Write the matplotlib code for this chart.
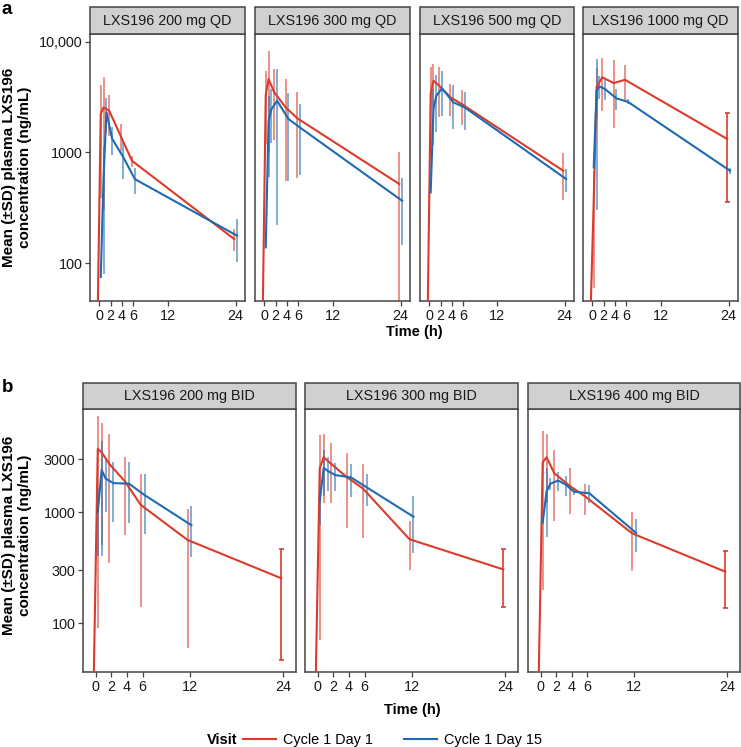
import numpy as np
import matplotlib
matplotlib.use('Agg')
from matplotlib import pyplot as plt
from matplotlib.lines import Line2D
from matplotlib.patches import Rectangle

plt.rcParams['font.family'] = ['Liberation Sans', 'DejaVu Sans']

# Sampling times (h)
qd_times = [0, 0.5, 1, 2, 4, 6, 24]
bid_times_d1 = [0, 0.5, 1, 2, 4, 6, 12, 24]
bid_times_d15 = [0, 0.5, 1, 2, 4, 6, 12]
bid400_times_d15 = [0, 0.5, 1, 2, 3, 4, 6, 12]

# a) QD cohorts, mean and SD (ng/mL); 0 = below the plotted range
qd200_d1 = [0, 2220, 2550, 2370, 1410, 840, 165]
qd200_d1_sd = [0, 1830, 2250, 950, 380, 95, 37]
qd200_d15 = [75, 600, 2300, 1330, 900, 574, 177]
qd200_d15_sd = [0, 520, 800, 380, 330, 150, 75]

qd300_d1 = [0, 3300, 4590, 3480, 2550, 2040, 518]
qd300_d1_sd = [0, 2100, 3600, 2200, 2000, 1450, 480]
qd300_d15 = [139, 1900, 2460, 2920, 2000, 1680, 366]
qd300_d15_sd = [0, 1300, 1250, 2700, 1450, 1050, 220]

qd500_d1 = [0, 3400, 4430, 4000, 3140, 2730, 682]
qd500_d1_sd = [0, 2450, 1850, 1900, 1000, 950, 310]
qd500_d15 = [435, 2460, 3240, 3780, 2830, 2550, 575]
qd500_d15_sd = [0, 1300, 1700, 1650, 1200, 950, 135]

qd1000_d1 = [0, 370, 3900, 4760, 4220, 4520, 1320]
qd1000_d1_sd = [0, 310, 1900, 2400, 2550, 1600, 960]
qd1000_d15 = [732, 3600, 3940, 3720, 3070, 2860, 682]
qd1000_d15_sd = [0, 3300, 900, 780, 670, 150, 40]

# b) BID cohorts
bid200_d1 = [0, 3700, 3450, 2700, 1880, 1160, 560, 253]
bid200_d1_sd = [0, 3610, 2950, 2350, 1260, 1020, 500, 207]
bid200_d15 = [1000, 2400, 2000, 1820, 1800, 1420, 760]
bid200_d15_sd = [600, 2000, 1000, 1000, 1000, 790, 365]

bid300_d1 = [0, 2480, 3110, 2700, 2050, 1635, 568, 304]
bid300_d1_sd = [0, 2410, 1900, 1500, 1330, 1050, 265, 164]
bid300_d15 = [1250, 2500, 2350, 2150, 2050, 1670, 907]
bid300_d15_sd = [480, 1100, 800, 600, 680, 530, 480]

bid400_d1 = [0, 2800, 3110, 2230, 1715, 1375, 643, 290]
bid400_d1_sd = [0, 2600, 1900, 1400, 760, 430, 350, 153]
bid400_d15 = [800, 1540, 1800, 1920, 1760, 1525, 1475, 650]
bid400_d15_sd = [0, 940, 220, 370, 360, 90, 270, 210]

x_ticks = [0, 2, 4, 6, 12, 24]
top_yticks = [100, 1000, 10000]
top_ylabels = ['100', '1000', '10,000']
bot_yticks = [100, 300, 1000, 3000]
bot_ylabels = ['100', '300', '1000', '3000']

RED = '#DB3B2B'
BLUE = '#1F6BB3'
FRAME = '#444444'
W, H = 741, 747

top_panels = [
    ('LXS196 200 mg QD', qd_times, qd200_d1, qd200_d1_sd, qd_times, qd200_d15, qd200_d15_sd, False),
    ('LXS196 300 mg QD', qd_times, qd300_d1, qd300_d1_sd, qd_times, qd300_d15, qd300_d15_sd, False),
    ('LXS196 500 mg QD', qd_times, qd500_d1, qd500_d1_sd, qd_times, qd500_d15, qd500_d15_sd, False),
    ('LXS196 1000 mg QD', qd_times, qd1000_d1, qd1000_d1_sd, qd_times, qd1000_d15, qd1000_d15_sd, True),
]
bot_panels = [
    ('LXS196 200 mg BID', bid_times_d1, bid200_d1, bid200_d1_sd, bid_times_d15, bid200_d15, bid200_d15_sd, True),
    ('LXS196 300 mg BID', bid_times_d1, bid300_d1, bid300_d1_sd, bid_times_d15, bid300_d15, bid300_d15_sd, True),
    ('LXS196 400 mg BID', bid_times_d1, bid400_d1, bid400_d1_sd, bid400_times_d15, bid400_d15, bid400_d15_sd, True),
]


def box(x0, x1, y0, y1):
    return [x0 / W, 1 - y1 / H, (x1 - x0) / W, (y1 - y0) / H]


def draw_series(ax, times, means, sds, color, offset, ylo, cap_last):
    t = np.array(times, float) + offset
    m = np.array(means, float)
    s = np.array(sds, float)
    ax.plot(t, np.where(m > 0, m, ylo), color=color, lw=1.5, zorder=3,
            solid_joinstyle='round', clip_on=True)
    lo = np.where(m - s > 0, m - s, ylo)
    hi = m + s
    keep = s > 0
    if cap_last:
        keep[-1] = False
        ax.errorbar(t[-1], m[-1], yerr=[[m[-1] - lo[-1]], [hi[-1] - m[-1]]],
                    fmt='none', ecolor=color, elinewidth=1.2, capsize=1.8,
                    capthick=1.2, zorder=2)
    ax.vlines(t[keep], lo[keep], hi[keep], color=color, lw=1.3, alpha=0.6, zorder=2)


def make_panel(rect, strip_h, panel, ylo, yhi, yticks, ylabels, first):
    title, t1, m1, s1, t15, m15, s15, cap = panel
    ax = fig.add_axes(rect)
    ax.set_yscale('log')
    draw_series(ax, t1, m1, s1, RED, -0.25, ylo, cap)
    draw_series(ax, t15, m15, s15, BLUE, 0.25, ylo, False)
    ax.set_xlim(-1.64, 25.64)
    ax.set_ylim(ylo, yhi)
    ax.set_xticks(x_ticks)
    ax.set_xticklabels([str(v) for v in x_ticks])
    ax.minorticks_off()
    ax.set_yticks(yticks)
    if first:
        ax.set_yticklabels(ylabels)
    else:
        ax.set_yticklabels([])
        ax.tick_params(axis='y', length=0)
    for sp in ax.spines.values():
        sp.set_color(FRAME)
        sp.set_linewidth(1.1)
    ax.tick_params(axis='both', direction='out', length=3.5, width=0.9,
                   color=FRAME, labelsize=10.4, labelcolor='#1a1a1a', pad=2)
    if not first:
        ax.tick_params(axis='y', length=0)
    # facet strip
    frac = strip_h / (rect[3] * H)
    ax.add_patch(Rectangle((0, 1), 1, frac, transform=ax.transAxes,
                           facecolor='#D0D0D0', edgecolor=FRAME, lw=1.1,
                           clip_on=False, zorder=5))
    ax.text(0.5, 1 + frac / 2, title, transform=ax.transAxes, ha='center',
            va='center', fontsize=10.4, color='#1a1a1a', zorder=6)
    return ax


fig = plt.figure(figsize=(W / 100, H / 100), dpi=100)

# Panel a
top_x = [(90, 245), (255, 410), (420, 574), (583, 738)]
for i, (panel, (x0, x1)) in enumerate(zip(top_panels, top_x)):
    make_panel(box(x0, x1, 34, 301), 27, panel, 45.6, 11700,
               top_yticks, top_ylabels, i == 0)

# Panel b
bot_x = [(83, 296), (305, 518), (528, 740)]
for i, (panel, (x0, x1)) in enumerate(zip(bot_panels, bot_x)):
    make_panel(box(x0, x1, 409, 672), 26, panel, 36.2, 8470,
               bot_yticks, bot_ylabels, i == 0)

ylab = 'Mean (\u00b1SD) plasma LXS196\nconcentration (ng/mL)'
fig.text(17 / W, 1 - 167 / H, ylab, rotation=90, ha='center', va='center',
         fontsize=11, fontweight='bold', linespacing=1.15, multialignment='center')
fig.text(17 / W, 1 - 535 / H, ylab, rotation=90, ha='center', va='center',
         fontsize=11, fontweight='bold', linespacing=1.15, multialignment='center')

fig.text(414 / W, 1 - 332 / H, 'Time (h)', ha='center', va='center',
         fontsize=10.5, fontweight='bold')
fig.text(412 / W, 1 - 710 / H, 'Time (h)', ha='center', va='center',
         fontsize=10.5, fontweight='bold')

fig.text(2 / W, 1 - 1 / H, 'a', ha='left', va='top', fontsize=13.5, fontweight='bold')
fig.text(2 / W, 1 - 379 / H, 'b', ha='left', va='top', fontsize=13.5, fontweight='bold')

# Legend
fig.text(207 / W, 1 - 740 / H, 'Visit', ha='left', va='center',
         fontsize=10.5, fontweight='bold')
handles = [Line2D([], [], color=RED, lw=1.5), Line2D([], [], color=BLUE, lw=1.5)]
fig.legend(handles, ['Cycle 1 Day 1', 'Cycle 1 Day 15'], loc='center left',
           bbox_to_anchor=(243 / W, 1 - 740 / H), ncol=2, frameon=False,
           fontsize=10.4, handlelength=2.3, handletextpad=0.5,
           columnspacing=2.1, borderpad=0, borderaxespad=0)

plt.savefig('out.png', dpi=100)
